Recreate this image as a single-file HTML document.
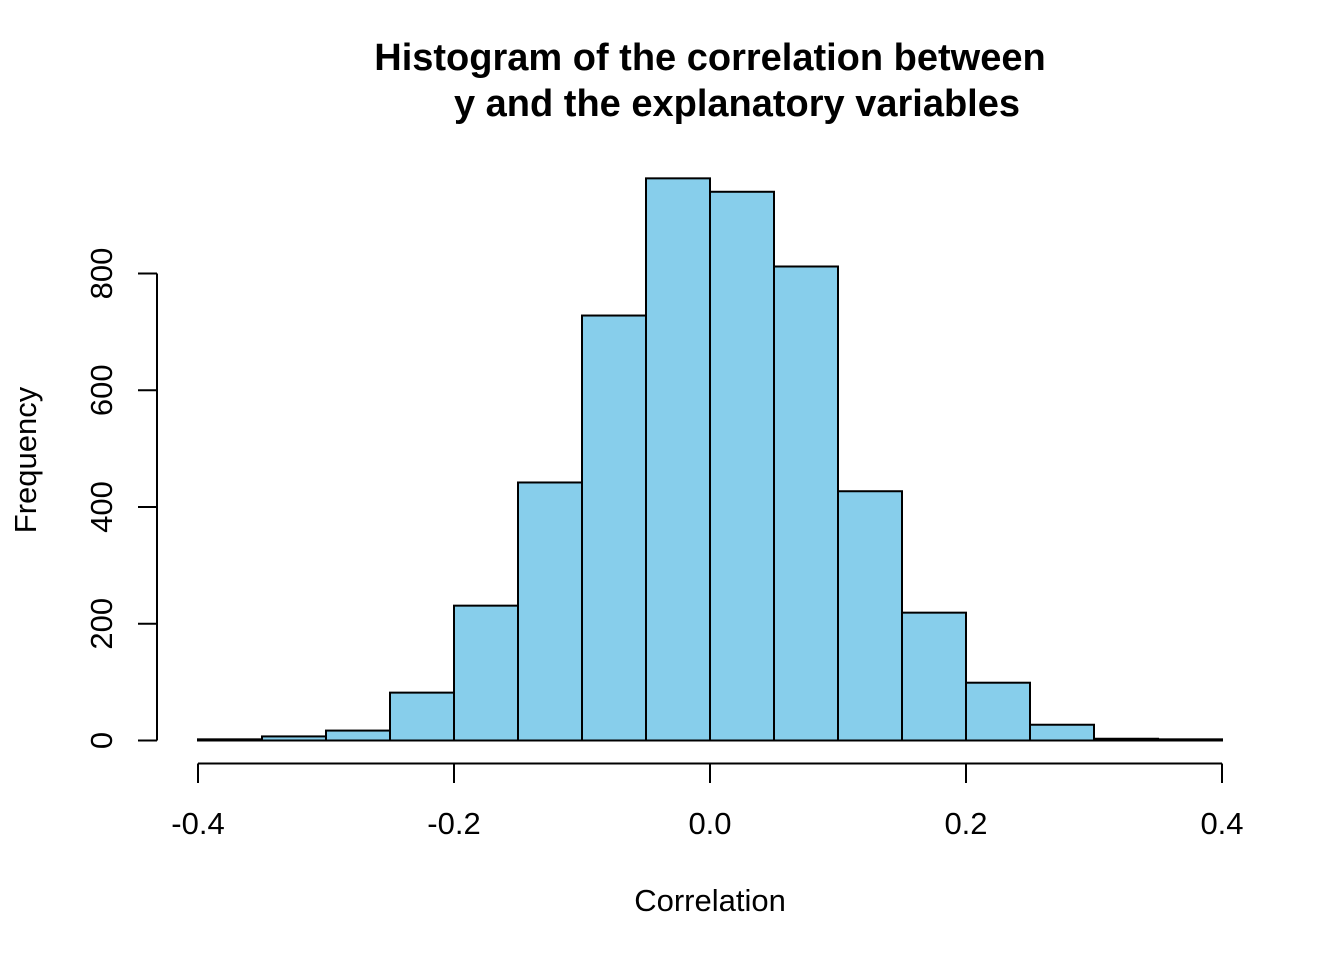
<!DOCTYPE html>
<html><head><meta charset="utf-8"><style>
body{margin:0;background:#fff}
svg text{font-family:"Liberation Sans",Arial,sans-serif;fill:#000}
</style></head><body>
<svg id="chart" width="1344" height="960" viewBox="0 0 1344 960" xmlns="http://www.w3.org/2000/svg">
<g font-weight="bold" font-size="38" text-anchor="middle">
<text x="710" y="70" style="font-weight:bold">Histogram of the correlation between</text>
<text x="737" y="116" style="font-weight:bold">y and the explanatory variables</text>
</g>
<g id="bars"></g>
<g id="axes"></g>
<text x="710" y="911" font-size="31" text-anchor="middle">Correlation</text>
<text x="0" y="0" font-size="31" text-anchor="middle" transform="translate(36,460) rotate(-90)">Frequency</text>
</svg>
<script>
const binStarts=[-0.40,-0.35,-0.30,-0.25,-0.20,-0.15,-0.10,-0.05,0.00,0.05,0.10,0.15,0.20,0.25,0.30,0.35];
const counts=[2,7,17,82,231,442,728,963,940,812,427,219,99,27,3,2];
const binWidth=0.05;
const xTicks=[-0.4,-0.2,0.0,0.2,0.4];
const xTickLabels=["-0.4","-0.2","0.0","0.2","0.4"];
const yTicks=[0,200,400,600,800];
const yTickLabels=["0","200","400","600","800"];
const NS="http://www.w3.org/2000/svg";
const xs=v=>198+(v+0.4)*1280;
const ys=v=>740.5-v*0.58375;
const bars=document.getElementById('bars');
binStarts.forEach((b,i)=>{
 const r=document.createElementNS(NS,'rect');
 
 
 const x0=xs(b),x1=xs(b+binWidth),y=ys(counts[i]);
 r.setAttribute('x',x0);r.setAttribute('width',x1-x0);
 r.setAttribute('y',y);r.setAttribute('height',ys(0)-y);
 r.setAttribute('fill','#87ceeb');r.setAttribute('stroke','#000');r.setAttribute('stroke-width','2');
 bars.appendChild(r);
});
const axes=document.getElementById('axes');
function line(x1,y1,x2,y2,name){
 const l=document.createElementNS(NS,'line');
 
 
 l.setAttribute('x1',x1);l.setAttribute('y1',y1);l.setAttribute('x2',x2);l.setAttribute('y2',y2);
 l.setAttribute('stroke','#000');l.setAttribute('stroke-width','2');
 axes.appendChild(l);
}
function text(x,y,s,name,tr){
 const t=document.createElementNS(NS,'text');
 
 
 t.setAttribute('x',x);t.setAttribute('y',y);t.setAttribute('font-size','31');t.setAttribute('text-anchor','middle');
 if(tr)t.setAttribute('transform',tr);
 t.textContent=s;axes.appendChild(t);
}
line(xs(xTicks[0]),763.5,xs(xTicks[xTicks.length-1]),763.5,'x-axis-line');
xTicks.forEach((v,i)=>{line(xs(v),763.5,xs(v),783,'x-tick');text(xs(v),834,xTickLabels[i],'x-tick-label');});
line(157,ys(yTicks[0]),157,ys(yTicks[yTicks.length-1]),'y-axis-line');
yTicks.forEach((v,i)=>{line(138,ys(v),157,ys(v),'y-tick');text(0,0,yTickLabels[i],'y-tick-label','translate(112,'+ys(v)+') rotate(-90)');});
</script>
</body></html>
